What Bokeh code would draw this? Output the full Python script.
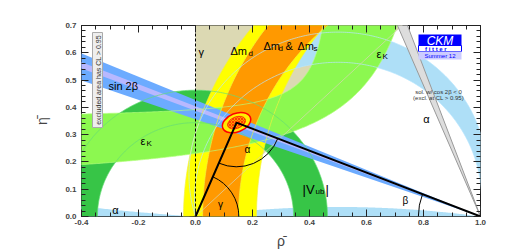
import numpy as np
from bokeh.plotting import figure
from bokeh.models import Range1d, LinearAxis, FixedTicker
from bokeh.core.properties import value
from bokeh.embed import file_html
from bokeh.resources import INLINE

# ---------------- data ----------------
RHO_RANGE = (-0.4, 1.0)
ETA_RANGE = (0.0, 0.7)
RHO_TICKS = [-0.4, -0.2, 0.0, 0.2, 0.4, 0.6, 0.8, 1.0]
ETA_TICKS = [0.0, 0.1, 0.2, 0.3, 0.4, 0.5, 0.6, 0.7]
RHO_TICK_LABELS = ["-0.4", "-0.2", "0.0", "0.2", "0.4", "0.6", "0.8", "1.0"]
ETA_TICK_LABELS = ["0.0", "0.1", "0.2", "0.3", "0.4", "0.5", "0.6", "0.7"]

APEX = (0.144, 0.344)                 # global fit (rho, eta)
FIT_OUTER = (0.104, 0.068, 0.38)      # width, height, tilt
FIT_INNER = (0.066, 0.042, 0.38)

SIN2B_BETA = (19.6, 23.1)             # beta (deg), 95% CL band
SIN2B_CORE = (21.2, 22.0)             # lighter inner stripe
COS2B_NEG_BETA = (67.4, 69.9)         # solution with cos 2beta < 0
GAMMA_DEG = (44.0, 90.0)
ALPHA_DEG = (73.0, 83.0)
ALPHA_STRIP_DEG = 172.0
ALPHA_LEFT_DEG = 3.8
VUB_R = (0.344, 0.463)
DMD_RX = (0.786, 1.042)
DMD_RY = (0.97, 1.085)
DMS_RX = (0.849, 0.975)
DMS_RY = (0.904, 1.087)
EK_LOW = (0.91, 0.122, 0.0969)        # eta = d + c / (a - rho)
EK_UP = (0.50, 0.0185, 0.355)

# ---------------- colours ----------------
C_KHAKI = "#dcd9b3"
C_YELLOW = "#ffff00"
C_ORANGE = "#ff9900"
C_LGREEN = "#8cf850"
C_DGREEN = "#37c547"
C_LBLUE = "#aedff7"
C_BLUE = "#6cabff"
C_LAV = "#b8b8ff"
C_GREY = "#dddddd"

FW, FH = 399, 191
SX = FW / (RHO_RANGE[1] - RHO_RANGE[0])
SY = FH / (ETA_RANGE[1] - ETA_RANGE[0])

p = figure(width=506, height=252, output_backend="svg", toolbar_location=None,
           x_range=Range1d(*RHO_RANGE), y_range=Range1d(*ETA_RANGE),
           min_border_left=81, min_border_right=26, min_border_top=25, min_border_bottom=36)
p.background_fill_color = "white"
p.border_fill_color = "white"
p.outline_line_color = "#222222"
p.outline_line_width = 1
p.grid.visible = False


def ring(cx, cy, rix, riy, rox, roy, t0, t1, n=240):
    t = np.linspace(t0, t1, n)
    xo = cx + rox * np.cos(t)
    yo = cy + roy * np.sin(t)
    xi = cx + rix * np.cos(t[::-1])
    yi = cy + riy * np.sin(t[::-1])
    return np.r_[xo, xi], np.r_[yo, yi]


def arcpts(cx, cy, rx, ry, t0, t1, n=240):
    t = np.linspace(t0, t1, n)
    return cx + rx * np.cos(t), cy + ry * np.sin(t)


def alpha_circle(adeg, n=300):
    a = np.radians(adeg)
    k = 0.5 / np.tan(a)
    R = 0.5 / np.sin(a)
    ta = np.arctan2(-k, 0.5)
    t = np.linspace(ta, np.pi - ta, n)
    return 0.5 + R * np.cos(t), k + R * np.sin(t)


# gamma wedge
g = np.radians(np.linspace(GAMMA_DEG[0], GAMMA_DEG[1], 100))
p.patch(np.r_[0, 1.5 * np.cos(g)], np.r_[0, 1.5 * np.sin(g)], fill_color=C_KHAKI, line_color=None)

# alpha bands
x1, y1 = alpha_circle(ALPHA_DEG[0])
x2, y2 = alpha_circle(ALPHA_DEG[1])
p.patch(np.r_[x1, x2[::-1]], np.r_[y1, y2[::-1]], fill_color=C_LBLUE, line_color=None)
xs, ys = alpha_circle(ALPHA_STRIP_DEG)
p.patch(xs, ys, fill_color=C_LBLUE, line_color=None)
aL = np.radians(ALPHA_LEFT_DEG)
kL, RL = 0.5 / np.tan(aL), 0.5 / np.sin(aL)
xl = np.linspace(-0.5, 0.0, 80)
yl = kL - np.sqrt(RL ** 2 - (xl - 0.5) ** 2)
p.patch(np.r_[xl, 0.0, -0.5], np.r_[yl, 0.0, 0.0], fill_color=C_LBLUE, line_color=None)

# |Vub|
xv, yv = ring(0.0, 0.0, VUB_R[0], VUB_R[0], VUB_R[1], VUB_R[1], 0, np.pi)
p.patch(xv, yv, fill_color=C_DGREEN, line_color=None)

# Delta m_d
xd, yd = ring(1.0, 0.0, DMD_RX[0], DMD_RY[0], DMD_RX[1], DMD_RY[1], np.pi / 2, np.pi)
p.patch(xd, yd, fill_color=C_YELLOW, line_color=None)

# epsilon_K band
xe = np.linspace(-0.45, 0.78, 300)
low = np.minimum(EK_LOW[2] + EK_LOW[1] / (EK_LOW[0] - xe), 0.8)
den = EK_UP[0] - xe
up = np.where(den > 0.005, EK_UP[2] + EK_UP[1] / np.maximum(den, 0.005), 0.8)
up = np.minimum(up, 0.8)
p.patch(np.r_[xe, xe[::-1]], np.r_[low, up[::-1]], fill_color=C_LGREEN, line_color=None)

# Delta m_d & Delta m_s
xo_, yo_ = ring(1.0, 0.0, DMS_RX[0], DMS_RY[0], DMS_RX[1], DMS_RY[1], np.pi / 2, np.pi)
p.patch(xo_, yo_, fill_color=C_ORANGE, line_color=None)

# sin 2beta
def beta_band(b0, b1, xend=-0.5):
    return ([1.0, xend, xend], [0.0, (1 - xend) * np.tan(np.radians(b1)), (1 - xend) * np.tan(np.radians(b0))])

bx, by = beta_band(*SIN2B_BETA)
p.patch(bx, by, fill_color=C_BLUE, line_color=None)
cx_, cy_ = beta_band(*SIN2B_CORE)
p.patch(cx_, cy_, fill_color=C_LAV, line_color=None)

# contour lines of every constraint drawn over the fills
LW = 0.7
p.line(xe, np.where(low < 0.79, low, np.nan), line_color="#b6ff80", line_width=LW)
p.line(xe, np.where(up < 0.79, up, np.nan), line_color="#b6ff80", line_width=LW)
for rx, ry in zip(DMD_RX + DMS_RX, DMD_RY + DMS_RY):
    ax_, ay_ = arcpts(1.0, 0.0, rx, ry, np.pi / 2, np.pi)
    p.line(ax_, ay_, line_color="#f4f040", line_width=LW)
for adeg in ALPHA_DEG:
    ax_, ay_ = alpha_circle(adeg)
    p.line(ax_, ay_, line_color="#b8e6ff", line_width=LW)
for r in VUB_R:
    ax_, ay_ = arcpts(0.0, 0.0, r, r, 0, np.pi)
    p.line(ax_, ay_, line_color="#66dd77", line_width=LW)
gl = np.radians(GAMMA_DEG[0])
p.line([0, 1.5 * np.cos(gl)], [0, 1.5 * np.sin(gl)], line_color="#d8d6b4", line_width=LW)

# cos 2beta < 0 solution
b0, b1 = np.radians(COS2B_NEG_BETA)
gx = [1.0, 1 - 0.8 / np.tan(b0), 1 - 0.8 / np.tan(b1)]
gy = [0.0, 0.8, 0.8]
p.patch(gx, gy, fill_color=C_GREY, line_color="#999999", line_width=1)

# dashed line at rho = 0
p.line([0, 0], [0, 0.7], line_color="black", line_dash="3 2", line_width=1)

# angle arcs (screen angles)
ang_g = np.arctan2(APEX[1] * SY, APEX[0] * SX)
ang_b = np.arctan2(APEX[1] * SY, (APEX[0] - 1.0) * SX)
p.arc(x=[0.0], y=[0.0], radius=0.152, start_angle=0.0, end_angle=ang_g, line_color="black", line_width=1)
p.arc(x=[APEX[0]], y=[APEX[1]], radius=0.155, start_angle=ang_g + np.pi, end_angle=ang_b + np.pi,
      line_color="black", line_width=1)
p.arc(x=[1.0], y=[0.0], radius=0.218, start_angle=ang_b, end_angle=np.pi, line_color="black", line_width=1)

# global fit
p.ellipse(x=[APEX[0]], y=[APEX[1]], width=FIT_OUTER[0], height=FIT_OUTER[1], angle=FIT_OUTER[2],
          fill_color="#ffee00", line_color="#ff0000", line_width=1.5)
p.ellipse(x=[APEX[0]], y=[APEX[1]], width=FIT_INNER[0], height=FIT_INNER[1], angle=FIT_INNER[2],
          fill_color="#ff9900", line_color="#ff2200", line_width=0.8,
          hatch_pattern="x", hatch_color="#ff0000", hatch_scale=3, hatch_weight=0.6)
# triangle
p.line([0.0, APEX[0], 1.0], [0.0, APEX[1], 0.0], line_color="black", line_width=2)

FONT = value("Liberation Sans")


def txt(x, y, s, size, color="black", align="left", base="alphabetic", angle=0.0, style="normal"):
    p.text(x=[x], y=[y], text=[s], text_font=FONT, text_font_size=value(size), text_color=color,
           text_align=align, text_baseline=base, angle=angle, text_font_style=style)


def px(x):
    return RHO_RANGE[0] + (x - 81) / SX


def py(y):
    return (216 - y) / SY

# labels
txt(px(108), py(85), "sin 2β", "11px")
txt(px(198), py(51), "γ", "11px")
txt(px(230), py(50), "Δm", "11px")
txt(px(248), py(53), "d", "8px")
txt(px(263), py(45), "Δm", "11px")
txt(px(278), py(48), "d", "8px")
txt(px(285), py(45), "&", "11px")
txt(px(297), py(45), "Δm", "11px")
txt(px(313), py(48), "s", "8px")
txt(px(376), py(53), "ε", "11px")
txt(px(382), py(56), "K", "8px")
txt(px(140), py(140), "ε", "11px")
txt(px(146), py(143), "K", "8px")
txt(px(302), py(189), "|V", "13px")
txt(px(315), py(191), "ub", "8px")
txt(px(325), py(189), "|", "13px")
txt(px(426), py(118), "α", "11px", align="center", base="middle")
txt(px(115), py(209), "α", "11px", align="center", base="middle")
txt(px(247), py(149), "α", "10px", align="center", base="middle")
txt(px(220), py(204), "γ", "10px", align="center", base="middle")
txt(px(405), py(200), "β", "10px", align="center", base="middle")
txt(px(438), py(91), "sol. w/ cos 2β < 0", "6px", color="#333333", align="center", base="middle")
txt(px(438), py(97.5), "(excl. at CL > 0.95)", "6px", color="#333333", align="center", base="middle")

# vertical note box
p.quad(left=[px(92)], right=[px(102)], bottom=[py(127)], top=[py(32)], fill_color="#eeeeee",
       line_color="#aaaaaa", line_width=1)
txt(px(97.5), py(79.5), "excluded area has CL > 0.95", "7px", color="#333333", align="center",
    base="middle", angle=np.pi / 2)

# CKM fitter logo
p.quad(left=[px(418)], right=[px(461)], bottom=[py(45)], top=[py(34)], fill_color="#0000ff", line_color=None)
p.quad(left=[px(418)], right=[px(461)], bottom=[py(51)], top=[py(45)], fill_color="white",
       line_color="#0000ff", line_width=1)
p.quad(left=[px(418)], right=[px(461)], bottom=[py(59)], top=[py(51)], fill_color="#ccccff", line_color=None)
txt(px(439.5), py(40), "CKM", "12px", color="white", align="center", base="middle", style="italic")
txt(px(439.5), py(48.2), "f  i  t  t  e  r", "6px", color="#0000ff", align="center", base="middle", style="bold")
txt(px(439.5), py(55.3), "Summer 12", "6px", color="#0000ff", align="center", base="middle")

# axes
for ax in (p.xaxis[0], p.yaxis[0]):
    ax.major_label_text_font = "Liberation Sans"
    ax.major_label_text_font_style = "bold"
    ax.major_label_text_font_size = "8px"
    ax.major_tick_in = 7
    ax.major_tick_out = 0
    ax.minor_tick_in = 4
    ax.minor_tick_out = 0
    ax.axis_line_color = None
    ax.major_tick_line_color = "#222222"
    ax.minor_tick_line_color = "#222222"
    ax.axis_label_text_font = "Liberation Sans"
    ax.axis_label_text_font_style = "normal"
    ax.axis_label_text_font_size = "14px"

RHO_MINOR = list(np.round(np.arange(-0.4, 1.001, 0.05), 3))
ETA_MINOR = list(np.round(np.arange(0.0, 0.701, 0.02), 3))
p.xaxis[0].ticker = FixedTicker(ticks=RHO_TICKS, minor_ticks=RHO_MINOR)
p.yaxis[0].ticker = FixedTicker(ticks=ETA_TICKS, minor_ticks=ETA_MINOR)
p.xaxis[0].major_label_overrides = {t: l for t, l in zip(RHO_TICKS, RHO_TICK_LABELS)}
p.yaxis[0].major_label_overrides = {t: l for t, l in zip(ETA_TICKS, ETA_TICK_LABELS)}
p.xaxis[0].axis_label = "ρ\u0304"
p.yaxis[0].axis_label = "η\u0304"
p.xaxis[0].major_label_standoff = 3
p.xaxis[0].axis_label_standoff = 5
p.yaxis[0].major_label_standoff = 5
p.yaxis[0].axis_label_standoff = 12

top = LinearAxis(ticker=FixedTicker(ticks=RHO_TICKS, minor_ticks=RHO_MINOR))
right = LinearAxis(ticker=FixedTicker(ticks=ETA_TICKS, minor_ticks=ETA_MINOR))
for ax in (top, right):
    ax.major_label_text_font_size = "0px"
    ax.major_label_text_color = None
    ax.major_label_standoff = 0
    ax.major_tick_in = 7
    ax.major_tick_out = 0
    ax.minor_tick_in = 4
    ax.minor_tick_out = 0
    ax.axis_line_color = None
    ax.major_tick_line_color = "#222222"
    ax.minor_tick_line_color = "#222222"
p.add_layout(top, "above")
p.add_layout(right, "right")

open("out.html", "w").write(file_html(p, INLINE))
